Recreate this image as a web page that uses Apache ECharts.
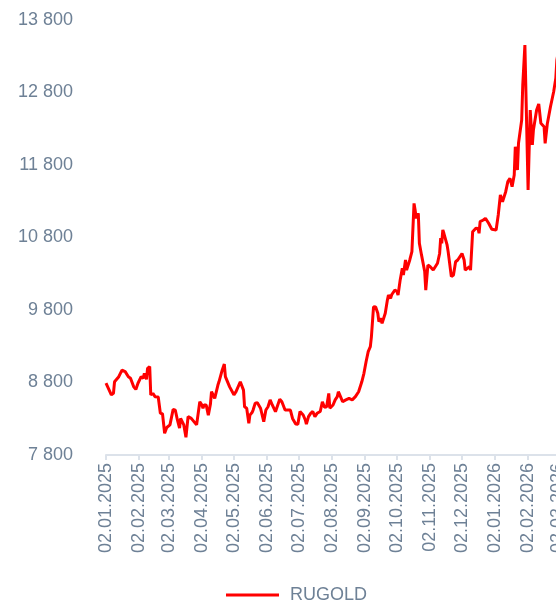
<!DOCTYPE html>
<html>
<head>
<meta charset="utf-8">
<script src="https://cdn.jsdelivr.net/npm/echarts@6/dist/echarts.min.js"></script>
<style>
  html, body { margin: 0; padding: 0; background: #ffffff; }
  #chart { width: 556px; height: 604px; }
</style>
</head>
<body>
<div id="chart"></div>
<script>
// RUGOLD daily closes
const dates = [
  '2025-01-02','2025-01-07','2025-01-09','2025-01-10','2025-01-14','2025-01-15','2025-01-17','2025-01-20','2025-01-23','2025-01-25',
  '2025-01-28','2025-01-30','2025-02-01','2025-02-04','2025-02-06','2025-02-07','2025-02-09','2025-02-10','2025-02-12','2025-02-13',
  '2025-02-15','2025-02-17','2025-02-20','2025-02-22','2025-02-24','2025-02-26','2025-02-28','2025-03-03','2025-03-06','2025-03-08',
  '2025-03-10','2025-03-12','2025-03-13','2025-03-16','2025-03-18','2025-03-20','2025-03-23','2025-03-28','2025-03-31','2025-04-02',
  '2025-04-03','2025-04-04','2025-04-06','2025-04-08','2025-04-10','2025-04-11','2025-04-14','2025-04-15','2025-04-17','2025-04-18',
  '2025-04-21','2025-04-23','2025-04-24','2025-04-25','2025-04-28','2025-05-02','2025-05-04','2025-05-08','2025-05-09','2025-05-11',
  '2025-05-12','2025-05-14','2025-05-16','2025-05-17','2025-05-19','2025-05-20','2025-05-22','2025-05-24','2025-05-27','2025-05-30',
  '2025-06-01','2025-06-03','2025-06-05','2025-06-07','2025-06-10','2025-06-11','2025-06-14','2025-06-16','2025-06-19','2025-06-24',
  '2025-06-26','2025-06-29','2025-07-01','2025-07-03','2025-07-06','2025-07-08','2025-07-09','2025-07-11','2025-07-13','2025-07-15',
  '2025-07-17','2025-07-19','2025-07-22','2025-07-24','2025-07-26','2025-07-28','2025-07-30','2025-07-31','2025-08-03','2025-08-05',
  '2025-08-07','2025-08-08','2025-08-10','2025-08-12','2025-08-15','2025-08-18','2025-08-19','2025-08-21','2025-08-24','2025-08-27',
  '2025-08-30','2025-09-01','2025-09-03','2025-09-05','2025-09-07','2025-09-08','2025-09-10','2025-09-12','2025-09-14','2025-09-15',
  '2025-09-17','2025-09-18','2025-09-21','2025-09-23','2025-09-24','2025-09-26','2025-09-27','2025-09-30','2025-10-02','2025-10-03',
  '2025-10-05','2025-10-07','2025-10-08','2025-10-10','2025-10-11','2025-10-14','2025-10-16','2025-10-18','2025-10-19','2025-10-20',
  '2025-10-22','2025-10-23','2025-10-25','2025-10-28','2025-10-29','2025-10-31','2025-11-02','2025-11-05','2025-11-09','2025-11-11',
  '2025-11-12','2025-11-13','2025-11-14','2025-11-15','2025-11-18','2025-11-19','2025-11-20','2025-11-22','2025-11-24','2025-11-26',
  '2025-11-28','2025-11-30','2025-12-02','2025-12-04','2025-12-05','2025-12-07','2025-12-09','2025-12-10','2025-12-12','2025-12-15',
  '2025-12-17','2025-12-18','2025-12-19','2025-12-22','2025-12-24','2025-12-27','2025-12-30','2026-01-03','2026-01-05','2026-01-07',
  '2026-01-09','2026-01-12','2026-01-14','2026-01-16','2026-01-18','2026-01-20','2026-01-21','2026-01-23','2026-01-24','2026-01-27',
  '2026-01-28','2026-01-30','2026-02-02','2026-02-04','2026-02-06','2026-02-07','2026-02-10','2026-02-12','2026-02-14','2026-02-17',
  '2026-02-18','2026-02-20','2026-02-23','2026-02-25','2026-02-26','2026-02-28','2026-03-01','2026-03-03'
];
const rugold = [
  8790,8630,8650,8810,8880,8870,8970,8950,8880,8860,
  8740,8705,8790,8880,8860,8925,8845,8995,9020,8630,
  8650,8605,8600,8375,8370,8100,8180,8215,8430,8420,
  8283,8170,8305,8215,8045,8330,8305,8215,8535,8490,
  8445,8490,8490,8350,8505,8675,8580,8585,8765,8810,
  8970,9055,8880,8860,8740,8630,8675,8810,8825,8695,
  8465,8445,8237,8350,8385,8420,8515,8520,8445,8260,
  8420,8465,8560,8490,8397,8395,8570,8535,8420,8420,
  8305,8228,8225,8400,8352,8283,8225,8330,8375,8400,
  8330,8375,8400,8535,8458,8465,8650,8445,8490,8560,
  8605,8673,8605,8535,8560,8580,8605,8560,8605,8673,
  8810,8927,9087,9225,9295,9430,9845,9840,9755,9640,
  9685,9615,9755,9938,10005,9960,10010,10075,10055,10005,
  10215,10375,10283,10490,10350,10490,10605,11270,11180,11065,
  11135,10720,10560,10330,10075,10420,10400,10352,10445,10580,
  10790,10720,10905,10858,10697,10605,10628,10260,10283,10466,
  10490,10535,10580,10490,10352,10375,10398,10350,10880,10927,
  10925,10858,11018,11041,11065,10996,10913,10903,11110,11386,
  11294,11432,11570,11616,11500,11662,12052,11731,12099,12421,
  12903,13455,11455,12558,12076,12283,12558,12641,12375,12328,
  12099,12366,12604,12742,12811,12996,13248,13420
];
// Monthly tick dates (the 2nd of each month)
const tickDates = [
  '2025-01-02','2025-02-02','2025-03-02','2025-04-02','2025-05-02','2025-06-02','2025-07-02',
  '2025-08-02','2025-09-02','2025-10-02','2025-11-02','2025-12-02','2026-01-02','2026-02-02','2026-03-02'
];
const yMin = 7800, yMax = 13800, yStep = 1000;
const seriesName = 'RUGOLD';

const labelColor = '#6E8196';
const toTime = s => { const p = s.split('-').map(Number); return new Date(p[0], p[1] - 1, p[2]).getTime(); };
const pad = n => (n < 10 ? '0' : '') + n;
const fmtDate = v => { const d = new Date(v); return pad(d.getDate()) + '.' + pad(d.getMonth() + 1) + '.' + d.getFullYear(); };
const fmtNum = v => String(v).replace(/\B(?=(\d{3})+(?!\d))/g, ' ');

const tickTimes = tickDates.map(toTime);
const xStart = toTime(dates[0]);
const xEnd = toTime(dates[dates.length - 1]);
const pxPerDay = 1.0649;
const plotWidth = Math.round((xEnd - xStart) / 86400000 * pxPerDay);

const chart = echarts.init(document.getElementById('chart'), null, { renderer: 'canvas' });
chart.setOption({
  animation: false,
  backgroundColor: '#ffffff',
  textStyle: { fontFamily: 'Liberation Sans, Arial, sans-serif' },
  grid: { left: 106, top: 20, bottom: 149, width: plotWidth, containLabel: false, outerBoundsMode: 'none' },
  legend: {
    data: [{ name: seriesName, icon: 'rect' }],
    left: 221,
    top: 581,
    itemWidth: 53,
    itemHeight: 3,
    textStyle: { color: labelColor, fontSize: 18, padding: [0, 0, 0, 6] }
  },
  xAxis: {
    type: 'value',
    min: xStart,
    max: xEnd,
    scale: true,
    axisLine: { show: true, lineStyle: { color: '#DCE2EA', width: 2 } },
    axisTick: { show: true, length: 5, customValues: tickTimes, lineStyle: { color: '#DCE2EA', width: 2 } },
    splitLine: { show: false },
    axisLabel: {
      customValues: tickTimes,
      rotate: 90,
      margin: 8,
      color: labelColor,
      fontSize: 18,
      showMinLabel: true,
      showMaxLabel: true,
      formatter: v => fmtDate(v)
    }
  },
  yAxis: {
    type: 'value',
    min: yMin,
    max: yMax,
    interval: yStep,
    axisLine: { show: false },
    axisTick: { show: false },
    splitLine: { show: false },
    axisLabel: { color: labelColor, fontSize: 18, margin: 33, formatter: v => fmtNum(v) }
  },
  series: [{
    name: seriesName,
    type: 'line',
    data: dates.map((d, i) => [toTime(d), rugold[i]]),
    showSymbol: false,
    symbol: 'none',
    lineStyle: { color: '#FF0000', width: 3 },
    itemStyle: { color: '#FF0000' }
  }]
});
</script>
</body>
</html>
